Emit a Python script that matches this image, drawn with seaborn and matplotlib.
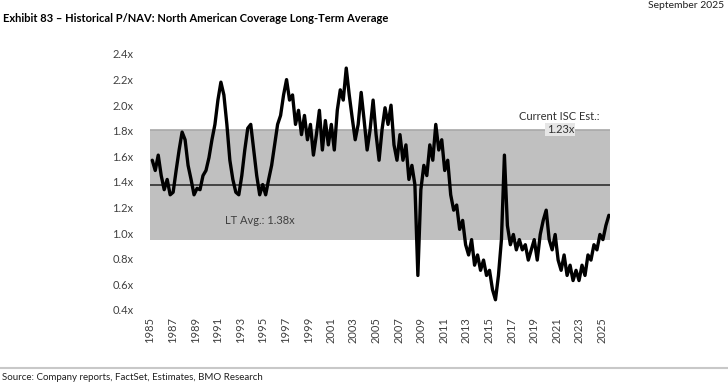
import numpy as np
import pandas as pd
import matplotlib
matplotlib.use("Agg")
import matplotlib.pyplot as plt
import seaborn as sns

# ---- data ----
pnav = [1.57, 1.49, 1.61, 1.45, 1.34, 1.42, 1.30, 1.32, 1.49, 1.65,
        1.79, 1.73, 1.53, 1.42, 1.30, 1.35, 1.34, 1.45, 1.49, 1.59,
        1.73, 1.85, 2.04, 2.18, 2.08, 1.85, 1.57, 1.42, 1.32, 1.30,
        1.45, 1.65, 1.82, 1.85, 1.65, 1.45, 1.30, 1.38, 1.30, 1.42,
        1.53, 1.69, 1.85, 1.92, 2.08, 2.20, 2.04, 2.08, 1.85, 1.96,
        1.77, 1.92, 1.73, 1.85, 1.61, 1.77, 1.96, 1.65, 1.88, 1.69,
        1.85, 1.65, 1.96, 2.12, 2.04, 2.29, 2.08, 1.90, 1.73, 1.85,
        2.10, 1.88, 1.65, 1.81, 2.04, 1.77, 1.57, 1.81, 1.98, 1.85,
        2.00, 1.69, 1.57, 1.77, 1.57, 1.69, 1.42, 1.53, 1.38, 0.67,
        1.34, 1.53, 1.45, 1.69, 1.57, 1.85, 1.65, 1.73, 1.49, 1.57,
        1.30, 1.18, 1.22, 1.03, 1.10, 0.91, 0.83, 0.95, 0.75, 0.83,
        0.71, 0.79, 0.67, 0.71, 0.56, 0.48, 0.67, 0.95, 1.61, 1.06,
        0.91, 0.99, 0.87, 0.95, 0.87, 0.91, 0.79, 0.87, 0.95, 0.79,
        0.99, 1.10, 1.18, 0.95, 0.87, 0.99, 0.79, 0.71, 0.83, 0.67,
        0.75, 0.63, 0.71, 0.63, 0.75, 0.67, 0.83, 0.79, 0.91, 0.87,
        0.99, 0.95, 1.06, 1.14]
start_year, end_year = 1985.2, 2025.6
lt_avg = 1.38
band_sd = 0.43
tick_years = list(range(1985, 2026, 2))
y_ticks = [0.4, 0.6, 0.8, 1.0, 1.2, 1.4, 1.6, 1.8, 2.0, 2.2, 2.4]

title = "Exhibit 83 \u2013 Historical P/NAV: North American Coverage Long-Term Average"
date_label = "September 2025"
source = "Source: Company reports, FactSet, Estimates, BMO Research"
avg_label = "LT Avg.: 1.38x"
cur_label = "Current ISC Est.:"
cur_value = "1.23x"

df = pd.DataFrame({"year": np.linspace(start_year, end_year, len(pnav)),
                   "pnav": pnav})

# ---- plot ----
sns.set_theme(style="white")
plt.rcParams["font.family"] = ["Lato", "DejaVu Sans"]

fig = plt.figure(figsize=(7.28, 3.88), dpi=100)
ax = fig.add_axes([150 / 728, 78 / 388, 460 / 728, 256 / 388])

ax.axhspan(lt_avg - band_sd, lt_avg + band_sd, color="#c0c0c0", lw=0, zorder=0)
ax.axhline(lt_avg + band_sd, color="#a8a8a8", lw=1.2, zorder=1)
ax.axhline(lt_avg, color="#3a3a3a", lw=1.3, zorder=2)

sns.lineplot(data=df, x="year", y="pnav", ax=ax, color="black", lw=2.4, zorder=3)

ax.set_xlim(1985.0, 2025.7)
ax.set_ylim(0.4, 2.4)
ax.set_xticks(tick_years)
ax.set_xticklabels([str(y) for y in tick_years], rotation=90, fontsize=8, color="#404040")
ax.set_yticks(y_ticks)
ax.set_yticklabels([f"{v:.1f}x" for v in y_ticks], fontsize=8, color="#404040")
ax.tick_params(axis="y", pad=12, length=0)
ax.tick_params(axis="x", pad=5, length=0)
ax.set_xlabel("")
ax.set_ylabel("")
for s in ax.spines.values():
    s.set_visible(False)

ax.text(1991.6, 1.10, avg_label, fontsize=8, color="#404040", va="center", ha="left")
ax.text(2021.2, 1.91, cur_label, fontsize=8, color="#303030", va="center", ha="center")
ax.text(2021.3, 1.81, cur_value, fontsize=8, color="#303030", va="center", ha="center",
        bbox=dict(boxstyle="square,pad=0.1", fc="#e6e6e6", ec="none"))

fig.text(3 / 728, 1 - 19 / 388, title, fontsize=8, fontweight="bold", color="black",
         va="center", ha="left")
fig.text(724 / 728, 1 - 5 / 388, date_label, fontsize=7.5, color="#202020",
         va="center", ha="right")
fig.add_artist(plt.Line2D([0, 1], [1 - 368 / 388] * 2, color="#c8c8c8", lw=1.5,
                          transform=fig.transFigure))
fig.text(2 / 728, 1 - 378 / 388, source, fontsize=7, color="#202020",
         va="center", ha="left")

fig.savefig("out.png", dpi=100)
